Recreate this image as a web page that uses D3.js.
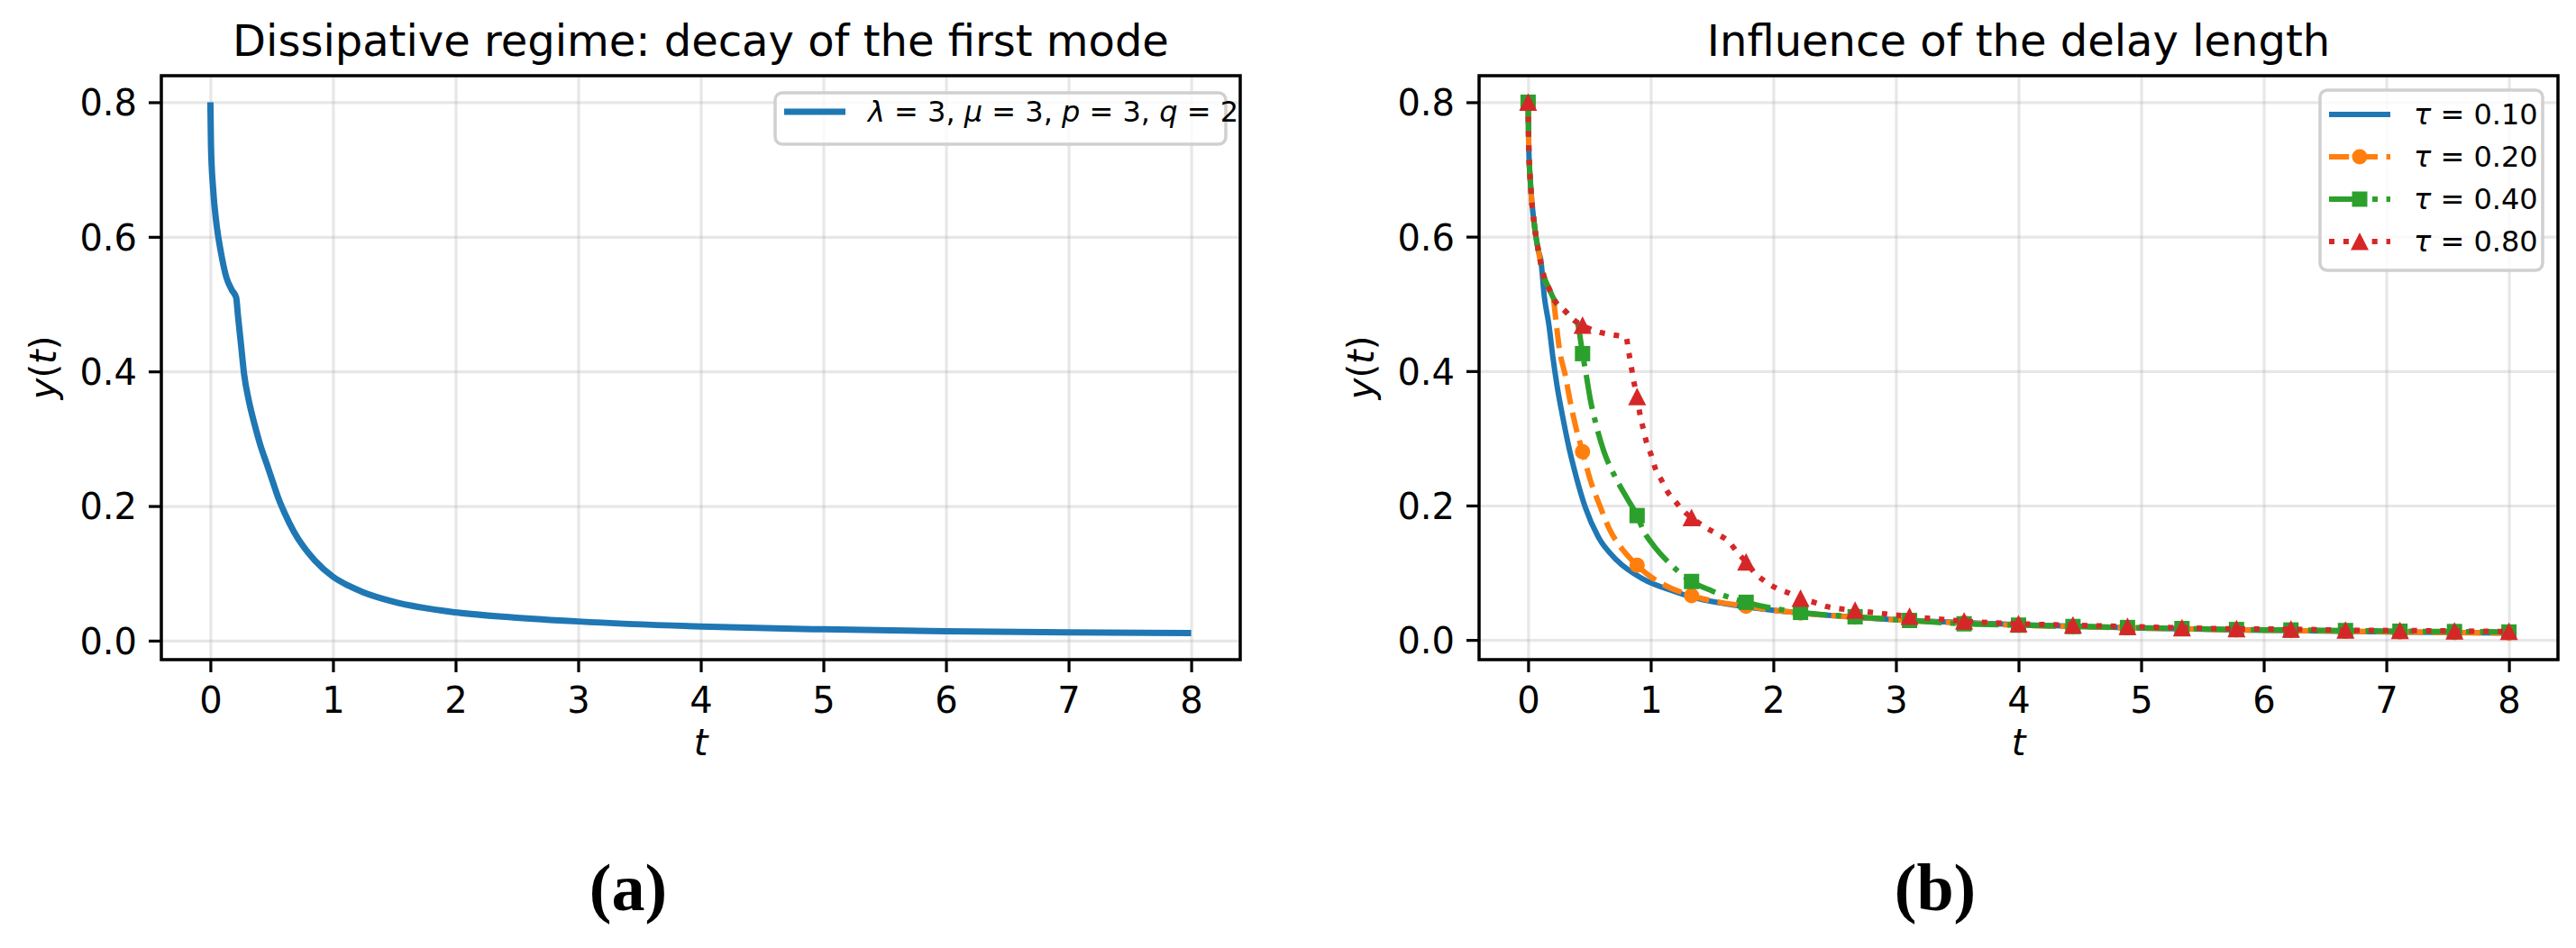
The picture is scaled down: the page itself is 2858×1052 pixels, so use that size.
<!DOCTYPE html>
<html>
<head>
<meta charset="utf-8">
<script src="https://cdn.jsdelivr.net/npm/d3@7"></script>
<style>
body{margin:0;background:#fff;}
text{font-family:"DejaVu Sans",sans-serif;fill:#000;}
</style>
</head>
<body>
<div id="fig"></div>
<script>
/* values */
var xTicks=[0,1,2,3,4,5,6,7,8];
var yTicks=[0,0.2,0.4,0.6,0.8];

/* (a) single mode, lambda=3, mu=3, p=3, q=2 */
var aT=[0,0.005,0.022,0.05,0.085,0.13,0.175,0.21,0.226,0.251,0.275,0.312,0.361,0.41,0.459,0.509,0.558,0.607,0.681,0.754,0.853,1.0,1.123,1.246,1.491,2.0,2.474,3,4,5,6,7,8];
var aY=[0.8,0.735,0.672,0.619,0.578,0.540,0.521,0.510,0.481,0.438,0.396,0.358,0.321,0.289,0.263,0.236,0.210,0.189,0.162,0.141,0.119,0.095,0.082,0.072,0.058,0.042,0.0345,0.0285,0.021,0.0168,0.014,0.0122,0.0112];

/* (b) delay length */
var markT=[0,0.444,0.889,1.333,1.778,2.222,2.667,3.111,3.556,4,4.444,4.889,5.333,5.778,6.222,6.667,7.111,7.556,8];
var tau10T=[0,0.005,0.022,0.05,0.085,0.103,0.132,0.171,0.201,0.237,0.282,0.331,0.392,0.465,0.573,0.727,0.935,1.18,1.35,1.6,2.0,2.5,3.0,3.7,4,5,6,7,8];
var tau10Y=[0.8,0.735,0.672,0.619,0.578,0.566,0.511,0.467,0.422,0.377,0.332,0.288,0.243,0.198,0.153,0.118,0.091,0.073,0.063,0.054,0.044,0.036,0.030,0.0248,0.0228,0.0178,0.0143,0.012,0.0103];
var tau20T=[0,0.005,0.022,0.05,0.085,0.13,0.175,0.206,0.23,0.255,0.304,0.343,0.39,0.444,0.507,0.58,0.666,0.781,0.889,1.0,1.119,1.333,1.778,2.222,2.667,3.111,3.556,4,4.444,4.889,5.333,5.778,6.222,6.667,7.111,7.556,8];
var tau20Y=[0.8,0.735,0.672,0.619,0.578,0.540,0.521,0.507,0.470,0.433,0.393,0.355,0.316,0.280,0.238,0.202,0.164,0.132,0.111,0.094,0.081,0.066,0.050,0.040,0.034,0.029,0.025,0.022,0.020,0.018,0.0165,0.015,0.014,0.013,0.012,0.011,0.0102];
var tau40T=[0,0.005,0.022,0.05,0.085,0.13,0.175,0.21,0.304,0.372,0.40,0.444,0.475,0.507,0.556,0.617,0.703,0.813,0.889,0.94,1.021,1.148,1.333,1.499,1.778,2.222,2.667,3.111,3.556,4,4.444,4.889,5.333,5.778,6.222,6.667,7.111,7.556,8];
var tau40Y=[0.8,0.735,0.672,0.619,0.578,0.540,0.521,0.507,0.489,0.476,0.472,0.426,0.393,0.358,0.319,0.281,0.245,0.209,0.185,0.163,0.141,0.115,0.087,0.073,0.056,0.041,0.0345,0.029,0.024,0.022,0.020,0.0185,0.017,0.0155,0.0148,0.014,0.013,0.0125,0.0118];
var tau80T=[0,0.005,0.022,0.05,0.085,0.13,0.175,0.21,0.304,0.372,0.444,0.58,0.686,0.80,0.818,0.838,0.855,0.889,0.916,0.941,0.967,1.004,1.038,1.087,1.139,1.205,1.278,1.333,1.45,1.548,1.639,1.707,1.778,1.847,1.927,2.026,2.124,2.222,2.333,2.431,2.667,3.111,3.556,4,4.444,4.889,5.333,5.778,6.222,6.667,7.111,7.556,8];
var tau80Y=[0.8,0.735,0.672,0.619,0.578,0.540,0.521,0.507,0.489,0.476,0.468,0.458,0.454,0.450,0.431,0.411,0.391,0.362,0.332,0.313,0.293,0.275,0.255,0.238,0.220,0.205,0.190,0.182,0.167,0.157,0.146,0.130,0.116,0.100,0.088,0.077,0.070,0.062,0.056,0.050,0.044,0.035,0.028,0.024,0.022,0.020,0.018,0.0165,0.016,0.0145,0.014,0.0134,0.0125];
var tauLabels=["0.10","0.20","0.40","0.80"];

var W=2858,H=1052;
var svg=d3.select("#fig").append("svg").attr("width",W).attr("height",H).attr("viewBox","0 0 "+W+" "+H);
svg.append("rect").attr("width",W).attr("height",H).attr("fill","#fff");

function zip(ts,ys){return ts.map(function(t,i){return {t:t,y:ys[i]};});}

/* marker shapes, matplotlib style (bbox centred) */
function markerPath(kind){
    if(kind==="o") return d3.symbol(d3.symbolCircle,Math.PI*8.5*8.5)();
    if(kind==="s") return "M-8.5,-8.5H8.5V8.5H-8.5Z";
    if(kind==="^") return "M0,-10L10,9.5L-10,9.5Z";
    return null;
}

function panel(opt){
    var x0=opt.left,x1=opt.right,y0=84,y1=732;
    var all=[];opt.series.forEach(function(s){all=all.concat(s.ys);});
    var lo=d3.min(all),hi=d3.max(all),pad=(hi-lo)*0.05;
    var x=d3.scaleLinear().domain([-0.4,8.4]).range([x0,x1]);
    var y=d3.scaleLinear().domain([lo-pad,hi+pad]).range([y1,y0]);
    var g=svg.append("g");
    var cid="clip"+opt.id;
    g.append("clipPath").attr("id",cid).append("rect").attr("x",x0).attr("y",y0).attr("width",x1-x0).attr("height",y1-y0);

    // grid
    g.append("g").attr("transform","translate(0,"+y1+")")
        .call(d3.axisBottom(x).tickValues(xTicks).tickSize(-(y1-y0)).tickFormat(""))
        .call(function(a){a.select(".domain").remove();a.selectAll("line").attr("stroke","#b0b0b0").attr("stroke-opacity",0.3).attr("stroke-width",3.2);});
    g.append("g").attr("transform","translate("+x0+",0)")
        .call(d3.axisLeft(y).tickValues(yTicks).tickSize(-(x1-x0)).tickFormat(""))
        .call(function(a){a.select(".domain").remove();a.selectAll("line").attr("stroke","#b0b0b0").attr("stroke-opacity",0.3).attr("stroke-width",3.2);});

    var line=d3.line().x(function(d){return x(d.t);}).y(function(d){return y(d.y);}).curve(d3.curveMonotoneX);
    var plot=g.append("g").attr("clip-path","url(#"+cid+")");
    opt.series.forEach(function(s){
        var pts=zip(s.ts,s.ys);
        plot.append("path").datum(pts).attr("fill","none").attr("stroke",s.color).attr("stroke-width",s.lw)
            .attr("stroke-dasharray",s.dash).attr("d",line);
        if(s.marker){
            var mp=pts.filter(function(d){return markT.some(function(m){return Math.abs(m-d.t)<1e-6;});});
            plot.selectAll(null).data(mp).enter().append("path")
                .attr("transform",function(d){return "translate("+x(d.t)+","+y(d.y)+")";})
                .attr("d",markerPath(s.marker)).attr("fill",s.color);
        }
    });

    // spines
    g.append("rect").attr("x",x0).attr("y",y0).attr("width",x1-x0).attr("height",y1-y0)
        .attr("fill","none").attr("stroke","#000").attr("stroke-width",3.5);

    // axes with ticks
    var xa=g.append("g").attr("transform","translate(0,"+y1+")")
        .call(d3.axisBottom(x).tickValues(xTicks).tickSize(14).tickPadding(14).tickFormat(d3.format("d")));
    var ya=g.append("g").attr("transform","translate("+x0+",0)")
        .call(d3.axisLeft(y).tickValues(yTicks).tickSize(14).tickPadding(13).tickFormat(d3.format(".1f")));
    [xa,ya].forEach(function(a){
        a.select(".domain").remove();
        a.selectAll("line").attr("stroke","#000").attr("stroke-width",3.2);
        a.selectAll("text").style("font-family","DejaVu Sans").style("font-size","40px").attr("fill","#000");
    });
    xa.selectAll("text").attr("dy",null).attr("y",59);
    ya.selectAll("text").attr("dy","0.36em");

    // titles / labels
    g.append("text").attr("x",(x0+x1)/2).attr("y",62).attr("text-anchor","middle").style("font-size","48px").text(opt.title);
    g.append("text").attr("x",(x0+x1)/2).attr("y",838).attr("text-anchor","middle").style("font-size","40px").style("font-style","italic").text("t");
    var yl=g.append("text").attr("transform","translate("+(x0-117)+","+((y0+y1)/2)+") rotate(-90)").attr("text-anchor","middle").style("font-size","40px");
    yl.append("tspan").style("font-style","italic").text("y");
    yl.append("tspan").text("(");
    yl.append("tspan").style("font-style","italic").text("t");
    yl.append("tspan").text(")");

    // panel letter
    svg.append("text").attr("x",opt.letterX).attr("y",1010).attr("text-anchor","middle")
        .style("font-family","'Liberation Serif',serif").style("font-weight","bold").style("font-size","74px").text(opt.letter);
    return {x:x,y:y};
}

/* (a) */
var blue="#1f77b4",orange="#ff7f0e",green="#2ca02c",red="#d62728";
panel({id:"a",left:179,right:1376,title:"Dissipative regime: decay of the first mode",letter:"(a)",letterX:697,
    series:[{ts:aT,ys:aY,color:blue,lw:7,dash:null,marker:null}]});

// legend (a)
var la=svg.append("g");
la.append("rect").attr("x",860).attr("y",103).attr("width",500).attr("height",57).attr("rx",8)
    .attr("fill","#fff").attr("fill-opacity",0.8).attr("stroke","#d0d0d0").attr("stroke-width",3.5);
la.append("line").attr("x1",870).attr("x2",938).attr("y1",124).attr("y2",124).attr("stroke",blue).attr("stroke-width",7);
var lt=la.append("text").attr("x",963).attr("y",135).style("font-size","32px");
[["λ",1]," = 3, ",["μ",1]," = 3, ",["p",1]," = 3, ",["q",1]," = 2"].forEach(function(p){
    if(typeof p==="string") lt.append("tspan").text(p);
    else lt.append("tspan").style("font-style","italic").text(p[0]);
});

/* (b) */
var bSeries=[
    {ts:tau10T,ys:tau10Y,color:blue,lw:6,dash:null,marker:null},
    {ts:tau20T,ys:tau20Y,color:orange,lw:6,dash:"22.2 9.6",marker:"o"},
    {ts:tau40T,ys:tau40Y,color:green,lw:6,dash:"38.4 9.6 6 9.6",marker:"s"},
    {ts:tau80T,ys:tau80Y,color:red,lw:6,dash:"6 9.9",marker:"^"}
];
panel({id:"b",left:1641,right:2838,title:"Influence of the delay length",letter:"(b)",letterX:2147,series:bSeries});

// legend (b)
var lb=svg.append("g");
lb.append("rect").attr("x",2574).attr("y",100).attr("width",247).attr("height",200).attr("rx",8)
    .attr("fill","#fff").attr("fill-opacity",0.8).attr("stroke","#d0d0d0").attr("stroke-width",3.5);
bSeries.forEach(function(s,i){
    var cy=127+i*47;
    lb.append("line").attr("x1",2584).attr("x2",2652).attr("y1",cy).attr("y2",cy)
        .attr("stroke",s.color).attr("stroke-width",s.lw).attr("stroke-dasharray",s.dash);
    if(s.marker) lb.append("path").attr("transform","translate(2618,"+cy+")").attr("d",markerPath(s.marker)).attr("fill",s.color);
    var t=lb.append("text").attr("x",2678).attr("y",cy+11).style("font-size","32px");
    t.append("tspan").style("font-style","italic").text("τ");
    t.append("tspan").text(" = "+tauLabels[i]);
});
</script>
</body>
</html>
